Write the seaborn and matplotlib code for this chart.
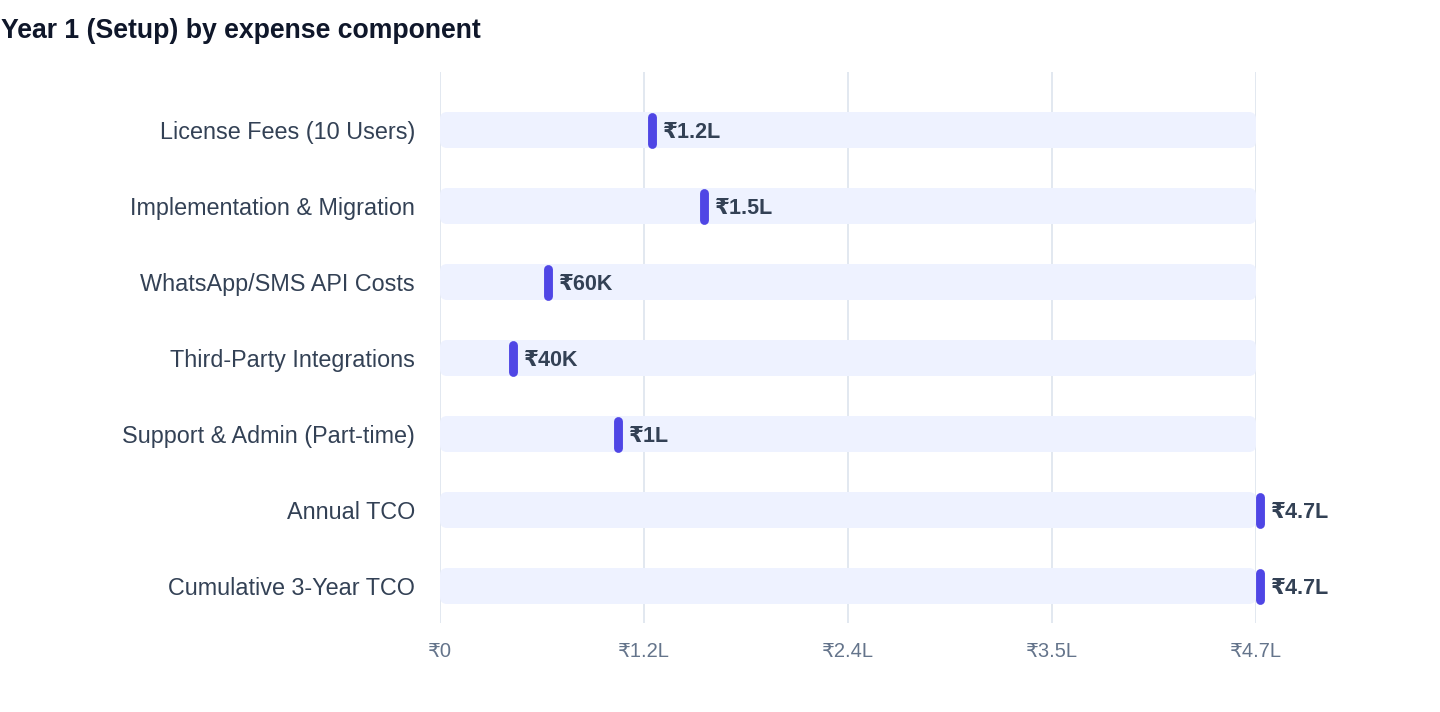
import numpy as np
import pandas as pd
import matplotlib
matplotlib.use("Agg")
import matplotlib.pyplot as plt
import matplotlib.transforms as mtransforms
from matplotlib.patches import FancyBboxPatch
import seaborn as sns

components = [
    "License Fees (10 Users)",
    "Implementation & Migration",
    "WhatsApp/SMS API Costs",
    "Third-Party Integrations",
    "Support & Admin (Part-time)",
    "Annual TCO",
    "Cumulative 3-Year TCO",
]
costs = [120000, 150000, 60000, 40000, 100000, 470000, 470000]
axis_max = 470000

INDIGO = "#4F46E5"
TRACK = "#EEF2FF"
GRID = "#E2E8F0"


def rupees(v):
    if v >= 1e5:
        s = f"{v / 1e5:.1f}".rstrip("0").rstrip(".")
        return f"₹{s}L"
    if v >= 1e3:
        return f"₹{v / 1e3:.0f}K"
    return f"₹{v:.0f}"


sns.set_theme(style="white")
plt.rcParams["font.family"] = ["Liberation Sans", "DejaVu Sans"]

df = pd.DataFrame({"component": components, "cost": costs})
df["track"] = axis_max

W, H = 1440, 712
fig = plt.figure(figsize=(W / 100, H / 100), dpi=100)
ax = fig.add_axes([440 / W, 89 / H, 816 / W, 551 / H])

sns.barplot(data=df, y="component", x="track", color=TRACK, width=36 / 76,
            orient="h", ax=ax, saturation=1)

ax.set_xlim(0, axis_max)
ax.set_ylim(6 + 37 / 76, -58 / 76)

# swap the plain track bars for rounded ones
x_per_px = axis_max / 816
y_per_px = 1 / 76
for p in list(ax.patches):
    x0, y0 = p.get_x(), p.get_y()
    w, h = p.get_width(), p.get_height()
    p.remove()
    ax.add_patch(FancyBboxPatch(
        (x0, y0), w, h,
        boxstyle=f"round,pad=0,rounding_size={7 * x_per_px}",
        mutation_aspect=y_per_px / x_per_px,
        facecolor=TRACK, edgecolor="none", zorder=1))

# value markers: short rounded pills
pos = np.arange(len(components))
shift = mtransforms.offset_copy(ax.transData, fig=fig, x=4, y=0, units="dots")
half = 13.5 / 76
ax.vlines(df["cost"], pos - half, pos + half, colors=INDIGO, linewidth=6.4,
          capstyle="round", transform=shift, zorder=4, clip_on=False)
for y, v in zip(pos, df["cost"]):
    ax.annotate(rupees(v), (v, y), xytext=(15, 0), textcoords="offset pixels",
                va="center_baseline", ha="left", fontsize=15.5, fontweight="bold",
                color="#334155", zorder=5, annotation_clip=False)

ticks = np.linspace(0, axis_max, 5)
ax.set_xticks(ticks)
ax.set_xticklabels([rupees(t) for t in ticks])
ax.grid(axis="x", color=GRID, linewidth=1.4)
ax.set_axisbelow(True)
for s in ax.spines.values():
    s.set_visible(False)
ax.tick_params(axis="x", length=0, pad=14, labelsize=14.5, labelcolor="#64748B")
ax.tick_params(axis="y", length=0, pad=18, labelsize=16.8, labelcolor="#334155")
ax.set_xlabel("")
ax.set_ylabel("")

fig.text(1 / W, 1 - 31 / H, "Year 1 (Setup) by expense component",
         fontsize=19.2, fontweight="bold", color="#0F172A", va="center", ha="left")

fig.savefig("out.png", dpi=100, facecolor="white")
